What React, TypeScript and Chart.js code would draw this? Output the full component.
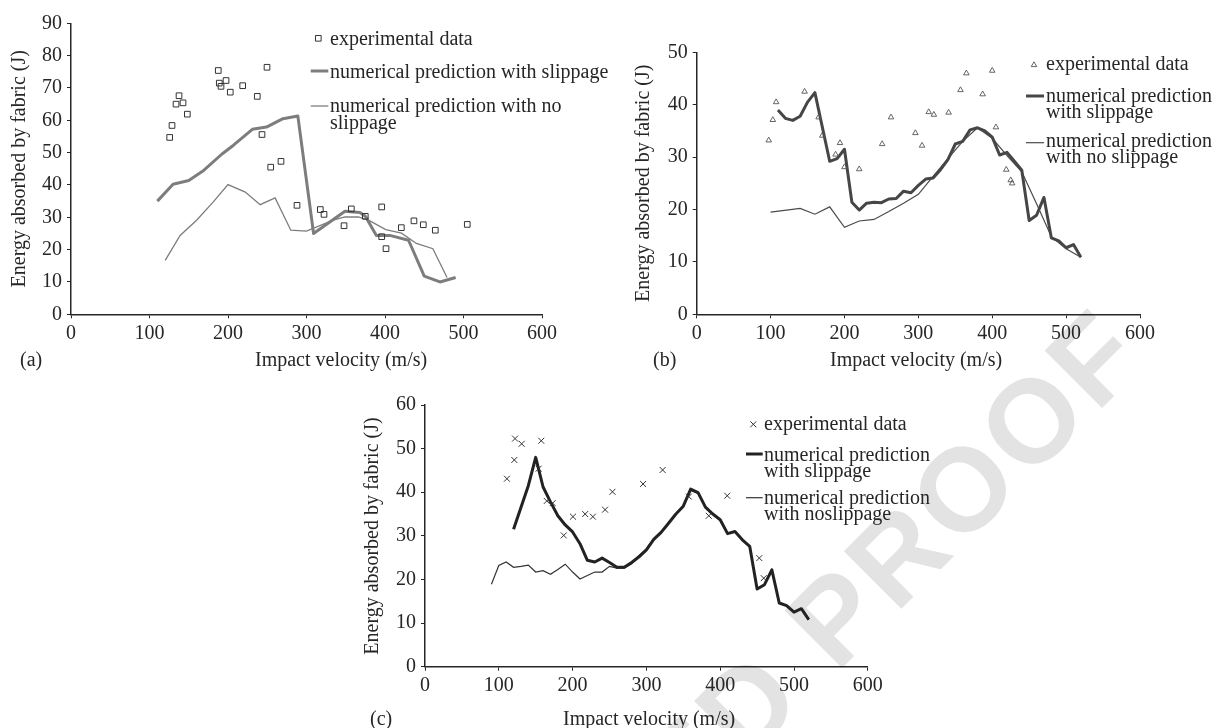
import React, { useEffect, useRef } from "react";
import { Chart, registerables } from "chart.js";

Chart.register(...registerables);

const W = 1216;
const H = 728;
const SERIF = '"Liberation Serif", "DejaVu Serif", "Times New Roman", serif';
const INK = "#262626";

// ---------- (a) ----------
const aExpV = [125.7, 128.7, 133.8, 137.6, 142.7, 148.2, 187.6, 188.9, 191.1, 197.5, 202.9, 218.7, 237.3, 243.3, 249.7, 254.4, 267.5, 287.9, 317.6, 322.3, 347.8, 357.1, 374.9, 395.8, 395.8, 401.3, 420.8, 436.9, 448.8, 464.1, 504.8];
const aExpE = [54.7, 58.4, 65.0, 67.6, 65.4, 61.9, 75.4, 71.5, 70.5, 72.3, 68.7, 70.7, 67.4, 55.6, 76.4, 45.5, 47.3, 33.7, 32.4, 30.9, 27.4, 32.6, 30.3, 33.2, 24.0, 20.3, 26.8, 28.9, 27.7, 26.0, 27.8];
const aSlipV = [110, 130, 150, 169, 192, 207, 231, 249, 270, 289, 309, 349, 368, 375, 389, 406, 430, 450, 470, 490];
const aSlipE = [35.0, 40.2, 41.4, 44.5, 49.5, 52.3, 57.2, 57.9, 60.5, 61.3, 25.0, 31.9, 31.5, 30.3, 24.4, 24.4, 22.9, 11.8, 10.0, 11.4];
const aNoV = [120, 139, 160, 181, 200, 222, 241, 260, 280, 300, 334, 349, 366, 379, 401, 421, 440, 461, 479];
const aNoE = [16.7, 24.4, 29.1, 34.7, 40.1, 37.8, 33.9, 36.0, 26.0, 25.7, 29.1, 30.1, 30.1, 29.1, 26.2, 25.1, 21.9, 20.3, 11.4];

// ---------- (b) ----------
const bExpV = [97.5, 103, 107.5, 146, 165, 170, 188, 194, 200, 220, 251, 263, 296, 305, 314, 321, 341, 357, 365, 387, 400, 405, 419, 425, 427];
const bExpE = [33.2, 37.1, 40.5, 42.5, 37.6, 34.1, 30.5, 32.7, 28.1, 27.7, 32.5, 37.6, 34.6, 32.2, 38.6, 38.1, 38.5, 42.8, 46.0, 42.0, 46.5, 35.7, 27.6, 25.6, 25.0];
const bSlipV = [110, 120, 130, 140, 150, 160, 180, 190, 200, 210, 220, 230, 240, 250, 260, 270, 280, 290, 300, 310, 320, 330, 340, 350, 360, 370, 380, 390, 400, 410, 420, 430, 440, 450, 460, 470, 480, 490, 500, 510, 520];
const bSlipE = [39.0, 37.4, 37.0, 37.8, 40.5, 42.3, 29.2, 29.7, 31.5, 21.4, 19.9, 21.2, 21.4, 21.3, 22.0, 22.1, 23.5, 23.2, 24.6, 25.8, 26.0, 27.6, 29.5, 32.5, 33.0, 35.2, 35.6, 35.0, 33.8, 30.4, 30.9, 29.2, 27.5, 17.9, 18.9, 22.3, 14.6, 14.0, 12.7, 13.3, 10.9];
const bNoV = [100, 140, 160, 180, 200, 220, 240, 260, 280, 300, 320, 340, 360, 380, 400, 420, 440, 460, 480, 500, 520];
const bNoE = [19.5, 20.2, 19.1, 20.5, 16.6, 17.8, 18.1, 19.6, 21.2, 22.9, 26.3, 29.7, 33.0, 35.6, 33.6, 30.3, 27.2, 21.1, 14.8, 12.5, 10.9];

// ---------- (c) ----------
const cExpV = [111, 121, 122, 131, 154, 157.5, 165, 173, 188, 200.5, 217, 227.5, 244, 254, 295.5, 322, 357.5, 384.5, 409.5, 453, 459];
const cExpE = [43.1, 47.4, 52.3, 51.1, 45.4, 51.8, 38.0, 37.5, 30.1, 34.4, 35.0, 34.4, 36.0, 40.1, 41.9, 45.1, 39.0, 34.6, 39.2, 24.9, 20.3];
const cSlipV = [120, 130, 140, 150, 160, 170, 180, 190, 200, 210, 220, 230, 240, 250, 260, 270, 280, 290, 300, 310, 320, 330, 340, 350, 360, 370, 380, 390, 400, 410, 420, 430, 440, 450, 460, 470, 480, 490, 500, 510, 520];
const cSlipE = [31.5, 36.5, 41.5, 48.0, 41.2, 37.8, 34.6, 32.5, 30.9, 28.2, 24.4, 24.0, 24.9, 23.9, 22.8, 22.8, 23.9, 25.2, 26.8, 29.2, 30.8, 32.9, 35.0, 36.8, 40.7, 39.9, 36.6, 35.0, 33.7, 30.5, 31.0, 29.1, 27.6, 17.8, 18.8, 22.2, 14.6, 14.0, 12.5, 13.3, 10.8];
const cNoV = [90, 100, 110, 120, 130, 140, 150, 160, 170, 180, 190, 200, 210, 220, 230, 240, 250, 260, 270, 280, 290, 300, 310, 320, 330, 340, 350, 360, 370, 380, 390, 400, 410, 420, 430, 440, 450, 460, 470, 480, 490, 500, 510, 520];
const cNoE = [18.9, 23.2, 24.0, 22.8, 23.0, 23.3, 21.7, 22.0, 21.2, 22.3, 23.5, 21.7, 20.1, 20.9, 21.7, 21.7, 23.0, 22.6, 22.6, 23.6, 25.5, 27.0, 29.4, 31.0, 33.0, 35.1, 37.0, 40.4, 39.7, 36.6, 35.0, 33.7, 30.5, 31.0, 29.1, 27.6, 17.8, 18.8, 22.2, 14.6, 14.0, 12.5, 13.3, 10.8];

// Shared axis labels
const X_TITLE = "Impact velocity (m/s)";
const Y_TITLE = "Energy absorbed by fabric (J)";
const EXP_LABEL = "experimental data";

// Watermark
const WM_TEXT = "UNCORRECTED PROOF";
const WM_SIZE = 118;
const WM_ANGLE = -45;
const WM_SPACING = 5;
const WM_ANCHOR: [number, number] = [962, 488];

type Marker = "rect" | "triangle" | "crossRot";
type TextItem = { text: string; x: number; y: number };
type Panel = {
  area: { left: number; top: number; right: number; bottom: number };
  yMax: number;
  yStep: number;
  expV: number[];
  expE: number[];
  slipV: number[];
  slipE: number[];
  noV: number[];
  noE: number[];
  marker: Marker;
  markerR: number;
  markerColor: string;
  markerW: number;
  slipColor: string;
  slipW: number;
  noColor: string;
  noW: number;
  legendMarker: [number, number];
  legendSlip: [number, number, number];
  legendNo: [number, number, number];
  texts: TextItem[];
  yTitle: [number, number];
};

const panels: Panel[] = [
  {
    area: { left: 71, top: 23.3, right: 542, bottom: 314.3 },
    yMax: 90,
    yStep: 10,
    expV: aExpV, expE: aExpE, slipV: aSlipV, slipE: aSlipE, noV: aNoV, noE: aNoE,
    marker: "rect", markerR: 4, markerColor: "#333", markerW: 1,
    slipColor: "#7d7d7d", slipW: 3, noColor: "#7d7d7d", noW: 1.3,
    legendMarker: [318.3, 38.3],
    legendSlip: [310.7, 328.3, 71],
    legendNo: [310.7, 328.3, 106],
    texts: [
      { text: EXP_LABEL, x: 330, y: 45 },
      { text: "numerical prediction with slippage", x: 330, y: 77.5 },
      { text: "numerical prediction with no", x: 330, y: 112 },
      { text: "slippage", x: 330, y: 128.5 },
      { text: X_TITLE, x: 255, y: 365.5 },
      { text: "(a)", x: 20, y: 365.5 },
    ],
    yTitle: [25, 168.8],
  },
  {
    area: { left: 696.7, top: 52.3, right: 1140, bottom: 314.3 },
    yMax: 50,
    yStep: 5,
    expV: bExpV, expE: bExpE, slipV: bSlipV, slipE: bSlipE, noV: bNoV, noE: bNoE,
    marker: "triangle", markerR: 3.2, markerColor: "#555", markerW: 0.9,
    slipColor: "#464646", slipW: 3, noColor: "#4a4a4a", noW: 1.2,
    legendMarker: [1034, 65],
    legendSlip: [1026, 1044, 96],
    legendNo: [1026, 1044, 142.7],
    texts: [
      { text: EXP_LABEL, x: 1046, y: 70 },
      { text: "numerical prediction", x: 1046, y: 102 },
      { text: "with slippage", x: 1046, y: 117.6 },
      { text: "numerical prediction", x: 1046, y: 147 },
      { text: "with no slippage", x: 1046, y: 162.6 },
      { text: X_TITLE, x: 830, y: 366 },
      { text: "(b)", x: 653, y: 366 },
    ],
    yTitle: [649, 183.3],
  },
  {
    area: { left: 425, top: 405, right: 867.8, bottom: 666.7 },
    yMax: 60,
    yStep: 10,
    expV: cExpV, expE: cExpE, slipV: cSlipV, slipE: cSlipE, noV: cNoV, noE: cNoE,
    marker: "crossRot", markerR: 4.2, markerColor: "#333", markerW: 1,
    slipColor: "#222", slipW: 3, noColor: "#333", noW: 1.2,
    legendMarker: [753.3, 424.3],
    legendSlip: [746, 762.7, 454],
    legendNo: [746, 762.7, 497.7],
    texts: [
      { text: EXP_LABEL, x: 764, y: 429.6 },
      { text: "numerical prediction", x: 764, y: 461 },
      { text: "with slippage", x: 764, y: 477 },
      { text: "numerical prediction", x: 764, y: 504 },
      { text: "with noslippage", x: 764, y: 520 },
      { text: X_TITLE, x: 563, y: 725 },
      { text: "(c)", x: 370, y: 725 },
    ],
    yTitle: [378, 536],
  },
];

const zip = (xs: number[], ys: number[]) => xs.map((x, i) => ({ x, y: ys[i] }));

function drawMarker(ctx: CanvasRenderingContext2D, kind: Marker, x: number, y: number, r: number) {
  ctx.beginPath();
  if (kind === "rect") {
    const s = Math.SQRT2 * r;
    ctx.rect(x - s / 2, y - s / 2, s, s);
  } else if (kind === "triangle") {
    ctx.moveTo(x, y - r);
    ctx.lineTo(x + 0.866 * r, y + 0.5 * r);
    ctx.lineTo(x - 0.866 * r, y + 0.5 * r);
    ctx.closePath();
  } else {
    const d = Math.SQRT1_2 * r;
    ctx.moveTo(x - d, y - d);
    ctx.lineTo(x + d, y + d);
    ctx.moveTo(x - d, y + d);
    ctx.lineTo(x + d, y - d);
  }
  ctx.stroke();
}

// Legend, axis titles and panel letters
function decorPlugin(p: Panel) {
  return {
    id: "decor",
    afterDraw(chart: Chart) {
      const ctx = chart.ctx;
      ctx.save();
      ctx.strokeStyle = p.markerColor;
      ctx.lineWidth = p.markerW;
      drawMarker(ctx, p.marker, p.legendMarker[0], p.legendMarker[1], p.markerR);

      ctx.lineCap = "butt";
      ctx.strokeStyle = p.slipColor;
      ctx.lineWidth = p.slipW;
      ctx.beginPath();
      ctx.moveTo(p.legendSlip[0], p.legendSlip[2]);
      ctx.lineTo(p.legendSlip[1], p.legendSlip[2]);
      ctx.stroke();

      ctx.strokeStyle = p.noColor;
      ctx.lineWidth = p.noW;
      ctx.beginPath();
      ctx.moveTo(p.legendNo[0], p.legendNo[2]);
      ctx.lineTo(p.legendNo[1], p.legendNo[2]);
      ctx.stroke();

      ctx.fillStyle = INK;
      ctx.font = `20px ${SERIF}`;
      ctx.textAlign = "left";
      ctx.textBaseline = "alphabetic";
      for (const t of p.texts) ctx.fillText(t.text, t.x, t.y);

      ctx.translate(p.yTitle[0], p.yTitle[1]);
      ctx.rotate(-Math.PI / 2);
      ctx.textAlign = "center";
      ctx.fillText(Y_TITLE, 0, 0);
      ctx.restore();
    },
  };
}

const Y_W = 50;
const X_H = 30;

function buildConfig(p: Panel): any {
  const tickFont = { family: SERIF, size: 20 };
  return {
    type: "scatter",
    data: {
      datasets: [
        {
          label: EXP_LABEL,
          data: zip(p.expV, p.expE),
          showLine: false,
          pointStyle: p.marker,
          pointRadius: p.markerR,
          pointHoverRadius: p.markerR,
          pointBorderColor: p.markerColor,
          pointBackgroundColor: "rgba(0,0,0,0)",
          pointBorderWidth: p.markerW,
        },
        {
          label: "numerical prediction with slippage",
          data: zip(p.slipV, p.slipE),
          showLine: true,
          borderColor: p.slipColor,
          borderWidth: p.slipW,
          borderJoinStyle: "round",
          pointRadius: 0,
          pointHoverRadius: 0,
          tension: 0,
        },
        {
          label: "numerical prediction with no slippage",
          data: zip(p.noV, p.noE),
          showLine: true,
          borderColor: p.noColor,
          borderWidth: p.noW,
          pointRadius: 0,
          pointHoverRadius: 0,
          tension: 0,
        },
      ],
    },
    options: {
      responsive: false,
      animation: false,
      devicePixelRatio: 1,
      events: [],
      layout: {
        padding: {
          left: p.area.left - Y_W,
          top: p.area.top,
          right: W - p.area.right,
          bottom: H - p.area.bottom - X_H,
        },
      },
      plugins: { legend: { display: false }, tooltip: { enabled: false }, title: { display: false } },
      scales: {
        x: {
          type: "linear",
          min: 0,
          max: 600,
          ticks: { stepSize: 100, color: INK, font: tickFont, padding: 3 },
          grid: { drawOnChartArea: false, drawTicks: true, tickLength: 4, color: INK, lineWidth: 1 },
          border: { display: true, color: INK, width: 1.5 },
          afterFit: (s: any) => {
            s.height = X_H;
          },
        },
        y: {
          type: "linear",
          min: 0,
          max: p.yMax,
          ticks: { stepSize: p.yStep, color: INK, font: tickFont, padding: 5 },
          grid: { drawOnChartArea: false, drawTicks: true, tickLength: 4, color: INK, lineWidth: 1 },
          border: { display: true, color: INK, width: 1.5 },
          afterFit: (s: any) => {
            s.width = Y_W;
          },
        },
      },
    },
    plugins: [decorPlugin(p)],
  };
}

const layerStyle: React.CSSProperties = {
  position: "absolute",
  left: 0,
  top: 0,
  width: W,
  height: H,
  display: "block",
};

function Watermark() {
  const ref = useRef<HTMLCanvasElement>(null);
  useEffect(() => {
    const c = ref.current;
    if (!c) return;
    const ctx = c.getContext("2d") as any;
    if (!ctx) return;
    ctx.clearRect(0, 0, W, H);
    ctx.font = `bold ${WM_SIZE}px "Liberation Sans", Arial, sans-serif`;
    ctx.letterSpacing = `${WM_SPACING}px`;
    const prefix = WM_TEXT.slice(0, WM_TEXT.indexOf("PROOF") + 2);
    const pre = ctx.measureText(prefix).width;
    const o = ctx.measureText("O").width - WM_SPACING;
    const th = (WM_ANGLE * Math.PI) / 180;
    const lx = pre + o / 2;
    const ly = -0.36 * WM_SIZE;
    const ox = WM_ANCHOR[0] - (lx * Math.cos(th) - ly * Math.sin(th));
    const oy = WM_ANCHOR[1] - (lx * Math.sin(th) + ly * Math.cos(th));
    ctx.save();
    ctx.translate(ox, oy);
    ctx.rotate(th);
    ctx.fillStyle = "#e3e3e3";
    ctx.textBaseline = "alphabetic";
    ctx.fillText(WM_TEXT, 0, 0);
    ctx.restore();
  }, []);
  return <canvas ref={ref} width={W} height={H} style={layerStyle} />;
}

function PanelChart({ panel }: { panel: Panel }) {
  const ref = useRef<HTMLCanvasElement>(null);
  useEffect(() => {
    if (!ref.current) return;
    const chart = new Chart(ref.current, buildConfig(panel));
    return () => chart.destroy();
  }, [panel]);
  return <canvas ref={ref} width={W} height={H} style={layerStyle} />;
}

export default function App() {
  return (
    <div style={{ position: "fixed", left: 0, top: 0, width: W, height: H, background: "#fff", overflow: "hidden" }}>
      <Watermark />
      {panels.map((p, i) => (
        <PanelChart key={i} panel={p} />
      ))}
    </div>
  );
}
